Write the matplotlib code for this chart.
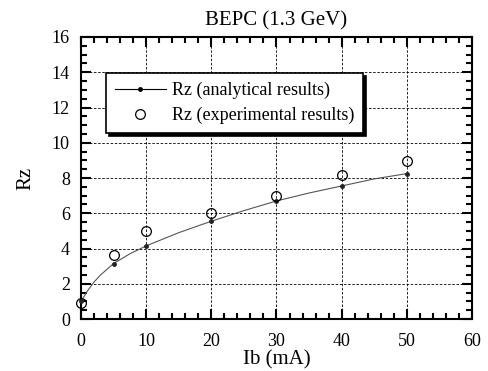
import matplotlib.pyplot as plt
from matplotlib.ticker import MultipleLocator

plt.rcParams['font.family'] = ['Liberation Serif', 'DejaVu Serif']

# analytical results (marked points)
ib_calc = [0, 5, 10, 20, 30, 40, 50]
rz_calc = [1.0, 3.15, 4.15, 5.55, 6.7, 7.55, 8.25]

# analytical curve
curve_x = [0, 1, 2, 3, 5, 7.5, 10, 15, 20, 25, 30, 35, 40, 45, 50]
curve_y = [1.0, 1.6, 2.1, 2.5, 3.15, 3.7, 4.15, 4.9, 5.55, 6.15, 6.7, 7.15, 7.55, 7.95, 8.25]

# experimental results
ib_exp = [0, 5, 10, 20, 30, 40, 50]
rz_exp = [0.9, 3.65, 5.0, 6.0, 7.0, 8.15, 8.95]

fig = plt.figure(figsize=(4.89, 3.71), dpi=100)
ax = fig.add_axes([0.1656, 0.140, 0.7996, 0.7603])

ax.plot(curve_x, curve_y, color='#555555', lw=0.8, zorder=3)
ax.plot(ib_calc, rz_calc, ls='none', marker='o', ms=2.5, color='#222222', zorder=4,
        clip_on=False)
ax.plot(ib_exp, rz_exp, ls='none', marker='o', ms=7, mfc='none', mec='black', mew=0.9,
        zorder=5, clip_on=False)

# legend handles
h1, = ax.plot([], [], color='black', lw=0.8, marker='o', ms=2.5)
h2, = ax.plot([], [], ls='none', marker='o', ms=7, mfc='none', mec='black', mew=0.9)

ax.set_xlim(0, 60)
ax.set_ylim(0, 16)
ax.xaxis.set_major_locator(MultipleLocator(10))
ax.xaxis.set_minor_locator(MultipleLocator(2))
ax.yaxis.set_major_locator(MultipleLocator(2))
ax.yaxis.set_minor_locator(MultipleLocator(0.5))
ax.tick_params(which='both', direction='in', top=True, right=True, width=1.5, labelsize=13)
ax.tick_params(which='major', length=7)
ax.tick_params(which='minor', length=4)
ax.tick_params(axis='x', which='major', pad=10)
ax.tick_params(axis='y', which='major', pad=8)
for s in ax.spines.values():
    s.set_linewidth(1.5)

ax.grid(True, which='major', color='black', ls=(0, (3, 2)), lw=0.6)
ax.set_axisbelow(True)

ax.set_xlabel('Ib (mA)', fontsize=15, labelpad=0)
ax.set_ylabel('Rz', fontsize=15, labelpad=12)
ax.set_title('BEPC (1.3 GeV)', fontsize=15, pad=8)

leg = ax.legend([h1, h2], ['Rz (analytical results)', 'Rz (experimental results)'],
                loc='upper left', bbox_to_anchor=(0.064, 0.872), borderaxespad=0,
                fontsize=13, fancybox=False, framealpha=1, edgecolor='black',
                shadow={'color': 'black', 'alpha': 1},
                handlelength=2.8, handletextpad=0.35, borderpad=0.5,
                labelspacing=0.4)
leg.get_frame().set_linewidth(1.2)

fig.savefig('out.png', dpi=100)
